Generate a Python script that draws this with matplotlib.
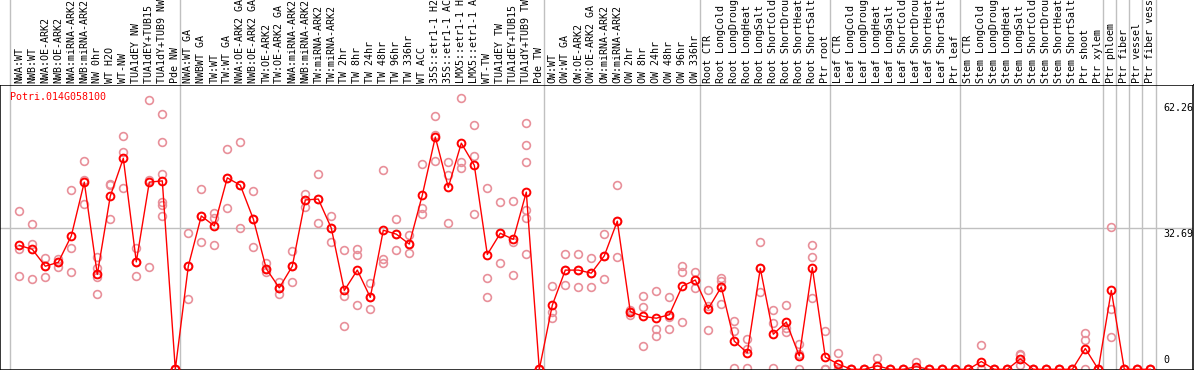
import matplotlib
matplotlib.use("Agg")
import matplotlib.pyplot as plt
from matplotlib.transforms import blended_transform_factory, offset_copy

labels = [
    "NWA:WT", "NWB:WT", "NWA:OE-ARK2", "NWB:OE-ARK2", "NWA:miRNA-ARK2", "NWB:miRNA-ARK2",
    "NW 0hr", "WT H2O", "WT-NW", "TUA1dEY NW", "TUA1dEY+TUB15 NW", "TUA1dY+TUB9 NW", "Pde NW",
    "NWA:WT GA", "NWBWT GA", "TW:WT", "TW:WT GA", "NWA:OE-ARK2 GA", "NWB:OE-ARK2 GA",
    "TW:OE-ARK2", "TW:OE-ARK2 GA", "NWA:miRNA-ARK2", "NWB:miRNA-ARK2", "TW:miRNA-ARK2",
    "TW:miRNA-ARK2", "TW 2hr", "TW 8hr", "TW 24hr", "TW 48hr", "TW 96hr", "TW 336hr", "WT ACC",
    "35S::etr1-1 H2O", "35S::etr1-1 ACC", "LMX5::etr1-1 H2O", "LMX5::etr1-1 ACC", "WT-TW",
    "TUA1dEY TW", "TUA1dEY+TUB15 TW", "TUA1dY+TUB9 TW", "Pde TW",
    "OW:WT", "OW:WT GA", "OW:OE-ARK2", "OW:OE-ARK2 GA", "OW:miRNA-ARK2", "OW:miRNA-ARK2",
    "OW 2hr", "OW 8hr", "OW 24hr", "OW 48hr", "OW 96hr", "OW 336hr",
    "Root CTR", "Root LongCold", "Root LongDrought", "Root LongHeat", "Root LongSalt",
    "Root ShortCold", "Root ShortDrought", "Root ShortHeat", "Root ShortSalt", "Ptr root",
    "Leaf CTR", "Leaf LongCold", "Leaf LongDrought", "Leaf LongHeat", "Leaf LongSalt",
    "Leaf ShortCold", "Leaf ShortDrought", "Leaf ShortHeat", "Leaf ShortSalt", "Ptr leaf",
    "Stem CTR", "Stem LongCold", "Stem LongDrought", "Stem LongHeat", "Stem LongSalt",
    "Stem ShortCold", "Stem ShortDrought", "Stem ShortHeat", "Stem ShortSalt",
    "Ptr shoot", "Ptr xylem", "Ptr phloem", "Ptr fiber", "Ptr vessel", "Ptr fiber vessel",
]

means = [28.6, 27.7, 23.8, 24.7, 30.8, 43.2, 21.9, 40.0, 48.7, 24.8, 43.2, 43.5, 0.0,
         23.8, 35.4, 33.1, 44.2, 42.5, 34.7, 23.2, 18.8, 23.8, 39.1, 39.3, 32.6, 18.2, 22.9,
         16.6, 32.1, 31.2, 28.9, 40.2, 53.6, 42.0, 52.2, 47.1, 26.5, 31.4, 30.0, 40.9, 0.0,
         14.8, 22.9, 22.9, 22.2, 26.2, 34.2, 13.3, 12.2, 11.8, 12.6, 19.2, 20.6,
         14.0, 19.0, 6.5, 3.8, 23.3, 8.1, 10.9, 3.1, 23.5, 2.8,
         1.2, 0, 0, 0.8, 0, 0, 0.6, 0, 0, 0,
         0, 1.8, 0, 0, 2.4, 0, 0, 0, 0, 4.8, 0, 18.2, 0, 0, 0]

reps = [
    [36.5, 27.7, 21.5], [33.5, 28.9, 20.8], [25.6, 21.3, 23.8], [25.5, 23.7, 24.7],
    [41.5, 28.0, 22.5], [48.0, 43.7, 38.2], [26.0, 23.3, 21.4, 17.4], [42.7, 34.6, 42.5],
    [53.8, 50.1, 41.9], [27.9, 21.5, 24.8], [62.2, 43.7, 23.6],
    [58.9, 52.4, 45.2, 38.7, 37.9, 35.4], [0, 0, 0],
    [31.4, 16.2, 23.8], [41.6, 29.3, 35.4], [36.0, 35.0, 28.7], [50.8, 37.2, 44.2],
    [52.5, 32.6, 42.5], [41.2, 28.2, 34.7], [24.5, 22.5, 23.2], [20.1, 17.4, 18.8],
    [27.2, 20.2, 23.8], [40.5, 37.5, 39.1], [45.1, 33.7, 39.3], [35.5, 29.3, 32.6],
    [27.5, 17.0, 10.0], [27.8, 26.3, 14.8], [19.9, 13.9, 16.6], [46.0, 25.4, 24.6],
    [34.7, 27.5, 31.2], [31.0, 26.8, 28.9], [47.4, 37.2, 35.8], [58.5, 54.2, 48.2],
    [47.9, 44.9, 33.7], [62.6, 47.8, 46.5], [56.4, 49.2, 35.8], [41.9, 21.0, 16.6],
    [38.6, 24.5, 31.4], [38.9, 29.3, 21.8], [56.9, 51.7, 47.8, 36.8, 34.9, 26.6], [0, 0, 0],
    [19.2, 13.3, 11.8], [26.6, 19.5, 22.9], [26.6, 19.0, 22.9], [25.7, 19.0, 22.2],
    [31.2, 20.8, 26.2], [42.5, 25.9, 34.2], [13.7, 12.5, 13.3], [16.9, 14.3, 5.4],
    [18.1, 9.3, 7.6], [16.6, 12.1, 9.3], [23.8, 22.4, 10.9], [22.5, 18.8, 20.6],
    [18.2, 14.5, 9.1], [21.0, 15.1, 20.4], [11.1, 8.8, 0.2], [7.0, 4.8, 0.2],
    [29.3, 17.8, 23.3], [13.8, 10.8, 0.2], [14.8, 8.6, 9.5], [5.8, 0.0, 3.5],
    [28.7, 25.9, 16.4], [8.9, 0.0, 0.0],
    [3.8, 0.0, 0.0], [0, 0, 0], [0, 0, 0], [2.5, 0, 0], [0, 0, 0], [0, 0, 0], [1.8, 0, 0],
    [0, 0, 0], [0, 0, 0], [0, 0, 0],
    [0, 0, 0], [5.5, 0, 0], [0, 0, 0], [0, 0, 0], [3.5, 3.2, 0.9], [0, 0, 0], [0, 0, 0],
    [0, 0, 0], [0, 0, 0], [8.4, 6.7, 0], [0, 0, 0], [32.8, 14.0, 7.4], [0, 0, 0],
    [0, 0, 0], [0, 0, 0],
]

group_breaks = [-0.72, 12.36, 40.36, 52.36, 62.36, 72.4, 83.38, 84.4, 85.38, 86.38, 87.42]
gene = "Potri.014G058100"
ytick_vals = [62.26, 32.69, 0]
ytick_texts = ["62.26", "32.69", "0"]

W, H = 1194, 370
HEAD = 85
fig = plt.figure(figsize=(W / 100, H / 100), dpi=100)
fig.patch.set_facecolor("white")

xlim = (-19.3 / 13.0, (1193 - 19.3) / 13.0)
ax = fig.add_axes([0, 0, 1193 / W, (H - HEAD) / H])
axh = fig.add_axes([0, (H - HEAD) / H, 1193 / W, HEAD / H])
for a in (ax, axh):
    a.set_xlim(*xlim)
    a.set_xticks([])
    a.set_yticks([])
ax.set_ylim(-0.16, 65.63)
axh.set_ylim(0, 1)
for s in axh.spines.values():
    s.set_visible(False)
for s in ax.spines.values():
    s.set_color("black")
    s.set_linewidth(1.1)

grid_c = "#c0c0c0"
for b in group_breaks:
    ax.axvline(b, color=grid_c, lw=1.0, zorder=0)
    axh.axvline(b, color=grid_c, lw=1.0, zorder=0)
ax.axhline(ytick_vals[1], color=grid_c, lw=1.0, zorder=0)

mono = "DejaVu Sans Mono"
fs = 7.2
tr = offset_copy(blended_transform_factory(axh.transData, axh.transAxes), fig=fig, x=0, y=2, units="dots")
for i, lab in enumerate(labels):
    axh.text(i, 0, lab, rotation=90, ha="center", va="bottom", family=mono, fontsize=fs,
             color="black", transform=tr, clip_on=False)

rep_c = "#e8909a"
xs = list(range(len(means)))
for i, rv in enumerate(reps):
    ax.plot([i] * len(rv), rv, linestyle="none", marker="o", ms=5.6, mfc="none",
            mec=rep_c, mew=1.2, zorder=2, clip_on=True)
ax.plot(xs, means, color="red", lw=1.0, marker="o", ms=5.6, mfc="none", mec="red",
        mew=1.4, zorder=3)

ax.text(10 / 1193, (H - 96.7) / (H - HEAD), gene, color="red", family=mono, fontsize=fs,
        ha="left", va="center", transform=ax.transAxes)

ylab_tr = blended_transform_factory(ax.transAxes, ax.transData)
xl = 1163 / 1193
ax.text(xl, ytick_vals[0], ytick_texts[0], family=mono, fontsize=fs, ha="left",
        va="top", transform=offset_copy(ylab_tr, fig=fig, x=0, y=-3, units="dots"))
ax.text(xl, ytick_vals[1], ytick_texts[1], family=mono, fontsize=fs, ha="left",
        va="top", transform=offset_copy(ylab_tr, fig=fig, x=0, y=-1, units="dots"))
ax.text(xl, ytick_vals[2], ytick_texts[2], family=mono, fontsize=fs, ha="left",
        va="bottom", transform=offset_copy(ylab_tr, fig=fig, x=0, y=4, units="dots"))

fig.savefig("out.png", dpi=100, facecolor="white")
